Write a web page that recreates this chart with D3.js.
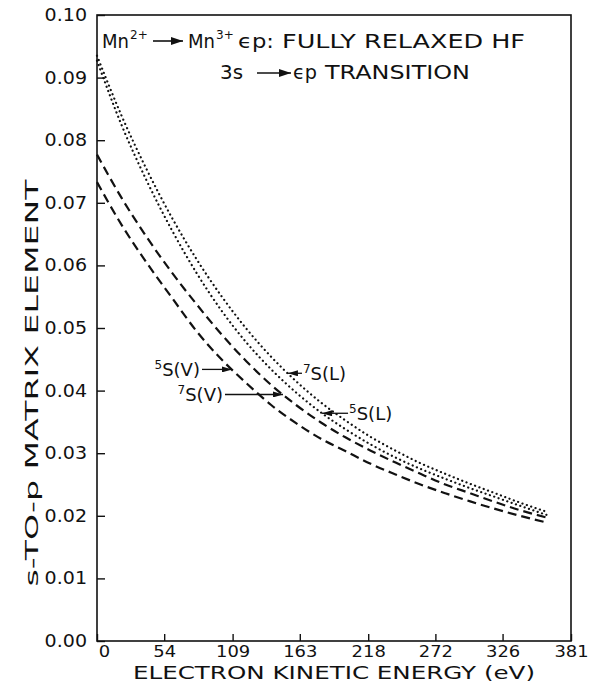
<!DOCTYPE html>
<html>
<head>
<meta charset="utf-8">
<script src="https://cdn.jsdelivr.net/npm/d3@7"></script>
<style>
  body { margin: 0; background: #fff; }
  svg text { font-family: "DejaVu Sans", sans-serif; fill: #111; }
</style>
</head>
<body>
<svg id="fig" width="590" height="694"></svg>
<script>
// electron kinetic energy (eV) and the four matrix element curves
const energy = [0, 20, 40, 60, 80, 100, 120, 140, 160, 180, 200, 220, 240, 260, 280, 300, 320, 340, 362];
const s5V = [0.0733, 0.0664, 0.0604, 0.0549, 0.0495, 0.0450, 0.0412, 0.0377, 0.0348, 0.0323, 0.0303, 0.0283, 0.0266, 0.0250, 0.0236, 0.0223, 0.0211, 0.0200, 0.0189];
const s7V = [0.0777, 0.0707, 0.0645, 0.0589, 0.0538, 0.0490, 0.0447, 0.0409, 0.0377, 0.0349, 0.0325, 0.0304, 0.0285, 0.0267, 0.0250, 0.0236, 0.0222, 0.0209, 0.0197];
const s5L = [0.0927, 0.0823, 0.0735, 0.0657, 0.0588, 0.0528, 0.0477, 0.0434, 0.0397, 0.0365, 0.0338, 0.0314, 0.0293, 0.0275, 0.0259, 0.0244, 0.0230, 0.0216, 0.0201];
const s7L = [0.0935, 0.0838, 0.0753, 0.0677, 0.0610, 0.0551, 0.0499, 0.0454, 0.0415, 0.0381, 0.0352, 0.0326, 0.0304, 0.0284, 0.0267, 0.0251, 0.0236, 0.0221, 0.0206];

const xTicks = [0, 54, 109, 163, 218, 272, 326, 381];
const yTicks = [0, 0.01, 0.02, 0.03, 0.04, 0.05, 0.06, 0.07, 0.08, 0.09, 0.10];

const svg = d3.select('#fig');
const margin = { top: 15, right: 19, bottom: 53, left: 97 };
const width = 590 - margin.left - margin.right;
const height = 694 - margin.top - margin.bottom;
const g = svg.append('g').attr('transform', `translate(${margin.left}, ${margin.top})`);

const x = d3.scaleLinear().domain([0, 381]).range([0, width]);
const y = d3.scaleLinear().domain([0, 0.10]).range([height, 0]);

// axes with ticks pointing inward
const xAxis = g.append('g').attr('transform', `translate(0, ${height})`)
    .call(d3.axisBottom(x).tickValues(xTicks).tickFormat(d3.format('d'))
        .tickSizeInner(-7).tickSizeOuter(0).tickPadding(5));
const yAxis = g.append('g')
    .call(d3.axisLeft(y).tickValues(yTicks).tickFormat(d3.format('.2f'))
        .tickSizeInner(-8).tickSizeOuter(0).tickPadding(10));
[xAxis, yAxis].forEach(a => {
    a.select('.domain').remove();
    a.selectAll('line').attr('stroke', '#111').attr('stroke-width', 1.4);
});
yAxis.selectAll('text').attr('font-size', 17).attr('fill', '#111');
xAxis.selectAll('text').attr('font-size', 16).attr('fill', '#111');
[xAxis, yAxis].forEach(a => a.selectAll('text')
    .attr('textLength', function () { return this.getComputedTextLength() * 1.12; })
    .attr('lengthAdjust', 'spacingAndGlyphs'));
xAxis.selectAll('text').filter(d => d === 0).attr('dx', 7);

g.append('rect').attr('width', width).attr('height', height)
    .attr('fill', 'none').attr('stroke', '#111').attr('stroke-width', 1.6);

// curves
const line = d3.line().x(d => x(d[0])).y(d => y(d[1])).curve(d3.curveMonotoneX);
const series = [
    { name: '5S(V)', values: s5V, dash: '9 5', cap: 'butt' },
    { name: '7S(V)', values: s7V, dash: '9 5', cap: 'butt' },
    { name: '5S(L)', values: s5L, dash: '0.1 4.5', cap: 'round' },
    { name: '7S(L)', values: s7L, dash: '0.1 4.5', cap: 'round' },
];
g.selectAll('path.curve').data(series).join('path')
    .attr('class', 'curve')
    .attr('d', s => line(energy.map((e, i) => [e, s.values[i]])))
    .attr('fill', 'none').attr('stroke', '#111').attr('stroke-width', 2.2)
    .attr('stroke-dasharray', s => s.dash).attr('stroke-linecap', s => s.cap);

// arrowheads
const defs = svg.append('defs');
defs.append('marker').attr('id', 'head').attr('viewBox', '0 0 10 6')
    .attr('refX', 10).attr('refY', 3).attr('markerWidth', 11).attr('markerHeight', 6)
    .attr('markerUnits', 'userSpaceOnUse').attr('orient', 'auto')
    .append('path').attr('d', 'M0,0L10,3L0,6Z').attr('fill', '#111');
defs.append('marker').attr('id', 'bighead').attr('viewBox', '0 0 12 8')
    .attr('refX', 12).attr('refY', 4).attr('markerWidth', 14).attr('markerHeight', 8)
    .attr('markerUnits', 'userSpaceOnUse').attr('orient', 'auto')
    .append('path').attr('d', 'M0,0L12,4L0,8Z').attr('fill', '#111');

// curve labels: arrow tip sits on the curve at the given energy
const curveAt = (vals, e) => {
    const i = d3.bisectRight(energy, e) - 1;
    const t = (e - energy[i]) / (energy[i + 1] - energy[i]);
    return vals[i] + t * (vals[i + 1] - vals[i]);
};
const labels = [
    { sup: '5', txt: 'S(V)', vals: s5V, e: 108.5, len: 30, side: 'left' },
    { sup: '7', txt: 'S(V)', vals: s7V, e: 149.5, len: 58, side: 'left' },
    { sup: '7', txt: 'S(L)', vals: s7L, e: 153.5, len: 14, side: 'right' },
    { sup: '5', txt: 'S(L)', vals: s5L, e: 180.9, len: 26, side: 'right' },
];
labels.forEach(l => {
    const tx = x(l.e), ty = y(curveAt(l.vals, l.e));
    const tail = l.side === 'left' ? tx - l.len : tx + l.len;
    g.append('line').attr('x1', tail).attr('y1', ty).attr('x2', tx).attr('y2', ty)
        .attr('stroke', '#111').attr('stroke-width', 1.3).attr('marker-end', 'url(#head)');
    const t = g.append('text').attr('y', ty + 7).attr('font-size', 18)
        .attr('x', l.side === 'left' ? tail - 2 : tail + 1)
        .attr('text-anchor', l.side === 'left' ? 'end' : 'start');
    t.append('tspan').attr('font-size', 12).attr('dy', -7).text(l.sup);
    t.append('tspan').attr('dy', 7).text(l.txt);
});

// title block
const title = svg.append('g');
const piece = (px, py, str, len) => title.append('text').attr('x', px).attr('y', py)
    .attr('font-size', 19).attr('textLength', len).attr('lengthAdjust', 'spacingAndGlyphs')
    .text(str);
const sup = (px, py, str) => title.append('text').attr('x', px).attr('y', py - 9)
    .attr('font-size', 12).text(str);
const arrow = (x1, x2, yy) => title.append('line').attr('x1', x1).attr('x2', x2)
    .attr('y1', yy).attr('y2', yy).attr('stroke', '#111').attr('stroke-width', 1.6)
    .attr('marker-end', 'url(#bighead)');

piece(102, 48, 'Mn', 27);
sup(130, 48, '2+');
arrow(153, 183, 41);
piece(188, 48, 'Mn', 27);
sup(216, 48, '3+');
piece(238, 48, 'ϵp:', 36);
piece(282, 48, 'FULLY RELAXED HF', 243);
piece(220, 79, '3s', 23);
arrow(257, 291, 73);
piece(293, 79, 'ϵp', 24);
piece(325, 79, 'TRANSITION', 145);

// axis titles
svg.append('text').attr('x', 334).attr('y', 679).attr('text-anchor', 'middle')
    .attr('font-size', 18).attr('textLength', 402).attr('lengthAdjust', 'spacingAndGlyphs')
    .text('ELECTRON KINETIC ENERGY (eV)');
svg.append('text').attr('transform', 'translate(38, 383) rotate(-90)')
    .attr('text-anchor', 'middle').attr('font-size', 18)
    .attr('textLength', 407).attr('lengthAdjust', 'spacingAndGlyphs')
    .text('s-TO-p MATRIX ELEMENT');
</script>
</body>
</html>
